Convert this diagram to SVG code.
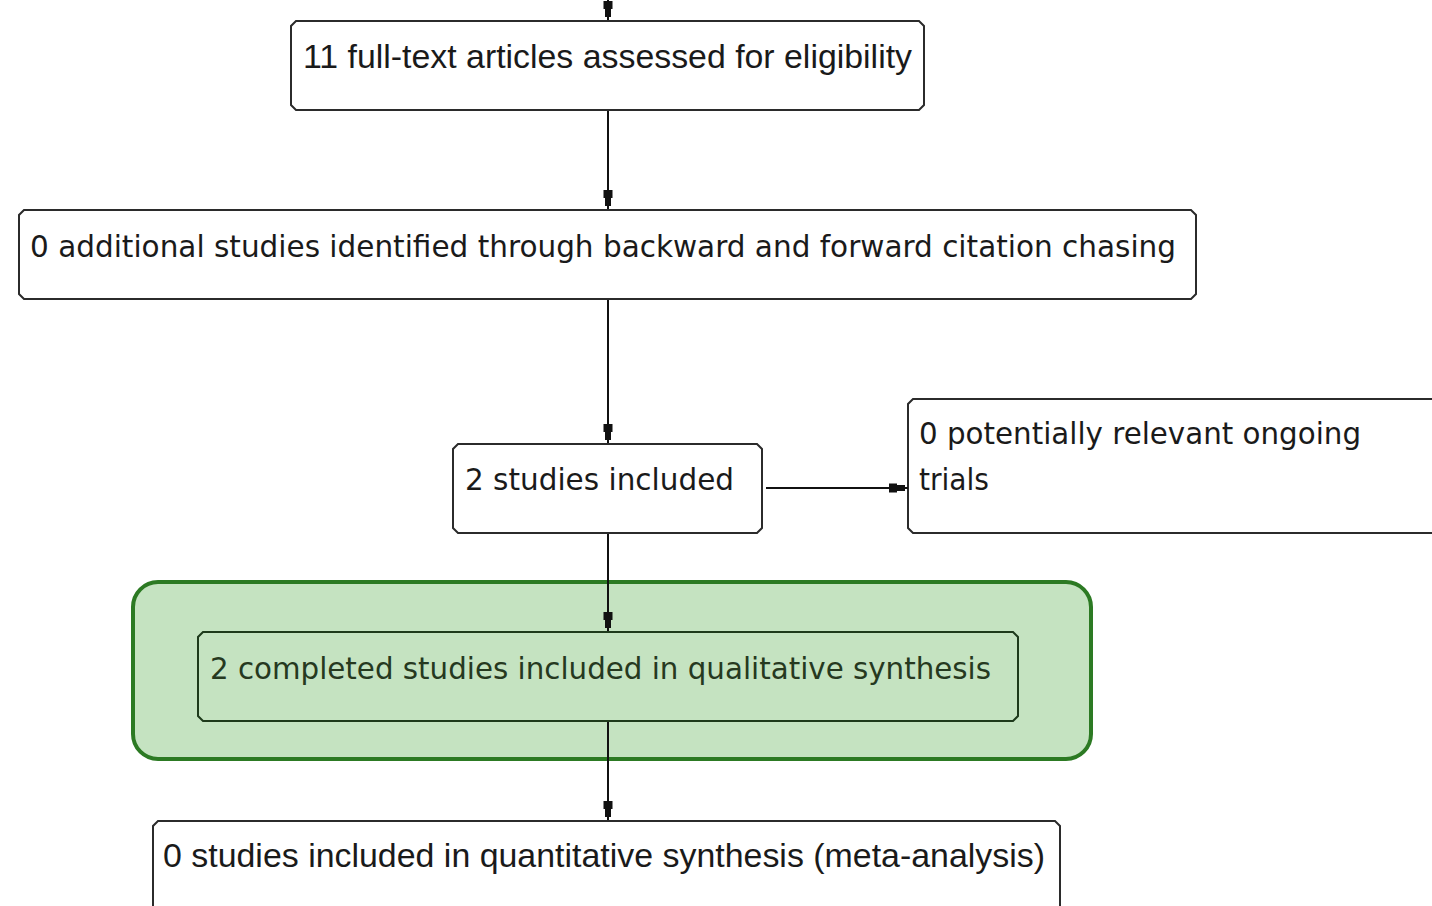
<svg xmlns="http://www.w3.org/2000/svg" width="1432" height="906" viewBox="0 0 1432 906">
<style>
.box{fill:#ffffff;stroke:#2b2b2b;stroke-width:2}
.inner{fill:none;stroke:#1e3a1b;stroke-width:2}
.t{font-family:"DejaVu Sans","Noto Sans",sans-serif;font-size:30px;fill:#1a1a1a}
.ta{font-family:"Liberation Sans",Arial,sans-serif;font-size:33px;fill:#1a1a1a}
.tg{font-family:"DejaVu Sans","Noto Sans",sans-serif;font-size:30px;fill:#26391f}
.c{stroke:#111;stroke-width:2;fill:none;marker-end:url(#ah)}
</style>
<defs>
<marker id="ah" viewBox="-20 -6 20 12" markerWidth="20" markerHeight="12" refX="0" refY="0" markerUnits="userSpaceOnUse" orient="auto">
<path d="M-19,-4.5 L-11,-4.5 L-11,-3 L-3,-3 L-3,3 L-11,3 L-11,4.5 L-19,4.5 Z" fill="#111"/>
</marker>
</defs>
<rect width="1432" height="906" fill="#ffffff"/>
<g id="group-green">
<rect x="133" y="582" width="958" height="177" rx="25" ry="25" fill="#c5e3c1" stroke="#2c7a23" stroke-width="4"/>
</g>
<g id="n1">
<path class="box" d="M296,21 H919 L924,26 V105 L919,110 H296 L291,105 V26 Z"/>
<text class="ta" x="303" y="68" textLength="609" lengthAdjust="spacingAndGlyphs">11 full-text articles assessed for eligibility</text>
</g>
<g id="n2">
<path class="box" d="M24,210 H1191 L1196,215 V294 L1191,299 H24 L19,294 V215 Z"/>
<text class="t" x="30" y="257" textLength="1146" lengthAdjust="spacingAndGlyphs">0 additional studies identified through backward and forward citation chasing</text>
</g>
<g id="n3">
<path class="box" d="M458,444 H757 L762,449 V528 L757,533 H458 L453,528 V449 Z"/>
<text class="t" x="465" y="490" textLength="269" lengthAdjust="spacingAndGlyphs">2 studies included</text>
</g>
<g id="n4">
<path class="box" d="M1440,533 H913 L908,528 V404 L913,399 H1440"/>
<text class="t" x="919" y="444" textLength="442" lengthAdjust="spacingAndGlyphs">0 potentially relevant ongoing</text>
<text class="t" x="919" y="490" textLength="70" lengthAdjust="spacingAndGlyphs">trials</text>
</g>
<g id="n5">
<path class="inner" d="M203,632 H1013 L1018,637 V716 L1013,721 H203 L198,716 V637 Z"/>
<text class="tg" x="210" y="679" textLength="781" lengthAdjust="spacingAndGlyphs">2 completed studies included in qualitative synthesis</text>
</g>
<g id="n6">
<path class="box" d="M153,915 V826 L158,821 H1055 L1060,826 V915"/>
<text class="ta" x="163" y="867" textLength="882" lengthAdjust="spacingAndGlyphs">0 studies included in quantitative synthesis (meta-analysis)</text>
</g>
<g id="connectors">
<path class="c" d="M608,0 V20"/>
<path class="c" d="M608,111 V209"/>
<path class="c" d="M608,300 V443"/>
<path class="c" d="M766,488 H908"/>
<path class="c" d="M608,534 V631"/>
<path class="c" d="M608,722 V820"/>
</g>
</svg>
